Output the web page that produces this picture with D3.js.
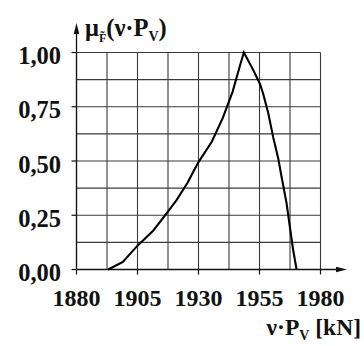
<!DOCTYPE html>
<html>
<head>
<meta charset="utf-8">
<script src="https://cdn.jsdelivr.net/npm/d3@7"></script>
<style>
  html, body { margin: 0; padding: 0; background: #fff; }
  svg { display: block; }
</style>
</head>
<body>
<svg id="chart" width="364" height="346"></svg>
<script>
// Membership function of the fuzzy load ν·P_v
const loadKN = [1893, 1899, 1905, 1911.5, 1917, 1921, 1925.5, 1930, 1935.5, 1940, 1944, 1947, 1948.6,
                1952.4, 1955.2, 1956.5, 1958.6, 1960.6, 1962.7, 1964, 1966.1, 1967.4, 1968.8, 1970.2];
const membership = [0, 0.035, 0.11, 0.18, 0.26, 0.32, 0.40, 0.495, 0.59, 0.70, 0.82, 0.94, 1.0,
                    0.92, 0.855, 0.81, 0.72, 0.61, 0.51, 0.43, 0.305, 0.20, 0.09, 0];

const xTicks = [1880, 1905, 1930, 1955, 1980];
const yTicks = [0, 0.25, 0.5, 0.75, 1.0];
const yTickLabels = ["0,00", "0,25", "0,50", "0,75", "1,00"];

const serif = "'Liberation Serif', Tinos, 'DejaVu Serif', serif";
const svg = d3.select("#chart")
  .attr("font-family", serif).attr("font-weight", "bold");
const x = d3.scaleLinear().domain([1880, 1980]).range([76.5, 320.5]);
const y = d3.scaleLinear().domain([0, 1]).range([269.5, 52.5]);

// grid every 12.5 kN and every 0.125
const gx = d3.range(1880, 1980.01, 12.5);
const gy = d3.range(0, 1.0001, 0.125);
const grid = svg.append("g").attr("stroke", "#3a3a3a").attr("stroke-width", 1.1);
grid.selectAll("line.v").data(gx).join("line")
  .attr("x1", d => x(d)).attr("x2", d => x(d))
  .attr("y1", y(0)).attr("y2", y(1));
grid.selectAll("line.h").data(gy).join("line")
  .attr("x1", x(1880)).attr("x2", x(1980))
  .attr("y1", d => y(d)).attr("y2", d => y(d));

// axes with arrowheads
const axisColor = "#111";
svg.append("line").attr("x1", x(1880)).attr("x2", 338).attr("y1", y(0)).attr("y2", y(0))
  .attr("stroke", axisColor).attr("stroke-width", 1.3);
svg.append("line").attr("x1", x(1880)).attr("x2", x(1880)).attr("y1", y(0)).attr("y2", 32)
  .attr("stroke", axisColor).attr("stroke-width", 1.3);
svg.append("path").attr("d", `M347,${y(0)} L336,${y(0) - 2.8} L336,${y(0) + 2.8} Z`).attr("fill", axisColor);
svg.append("path").attr("d", `M${x(1880)},23 L${x(1880) - 2.8},34 L${x(1880) + 2.8},34 Z`).attr("fill", axisColor);

// tick marks
svg.append("g").selectAll("line").data(xTicks).join("line")
  .attr("x1", d => x(d)).attr("x2", d => x(d))
  .attr("y1", y(0)).attr("y2", y(0) + 5)
  .attr("stroke", axisColor).attr("stroke-width", 1.2);
svg.append("g").selectAll("line").data(yTicks).join("line")
  .attr("x1", x(1880) - 5).attr("x2", x(1880))
  .attr("y1", d => y(d)).attr("y2", d => y(d))
  .attr("stroke", axisColor).attr("stroke-width", 1.2);

// tick labels
svg.append("g").selectAll("text").data(xTicks).join("text")
  .attr("x", d => x(d)).attr("y", 306)
  .attr("text-anchor", "middle").attr("font-size", 24).attr("fill", "#111")
  .text(d => d);
svg.append("g").selectAll("text").data(yTicks).join("text")
  .attr("x", 61).attr("y", d => y(d) + 11.5)
  .attr("text-anchor", "end").attr("font-size", 24.5).attr("fill", "#111")
  .text((d, i) => yTickLabels[i]);

// membership curve
const line = d3.line().x((d, i) => x(loadKN[i])).y(d => y(d));
svg.append("path").datum(membership)
  .attr("d", line)
  .attr("fill", "none").attr("stroke", "#000").attr("stroke-width", 2.1)
  .attr("stroke-linejoin", "miter");

// y-axis title  μ_F̃(ν·P_V)
const yt = svg.append("text").attr("x", 85).attr("y", 36).attr("font-size", 24.5).attr("fill", "#111");
yt.append("tspan").text("μ");
yt.append("tspan").attr("font-size", 12).attr("dy", 6).text("F\u0303");
yt.append("tspan").attr("font-size", 24.5).attr("dy", -6).text("(ν·P");
yt.append("tspan").attr("font-size", 14).attr("dy", 5).text("V");
yt.append("tspan").attr("font-size", 24.5).attr("dy", -5).text(")");

// x-axis title  ν·P_V [kN]
const xt = svg.append("text").attr("x", 361).attr("y", 335).attr("font-size", 23.5)
  .attr("text-anchor", "end").attr("fill", "#111");
xt.append("tspan").text("ν·P");
xt.append("tspan").attr("font-size", 14).attr("dy", 5).text("V");
xt.append("tspan").attr("dy", -5).text(" [kN]");
</script>
</body>
</html>
